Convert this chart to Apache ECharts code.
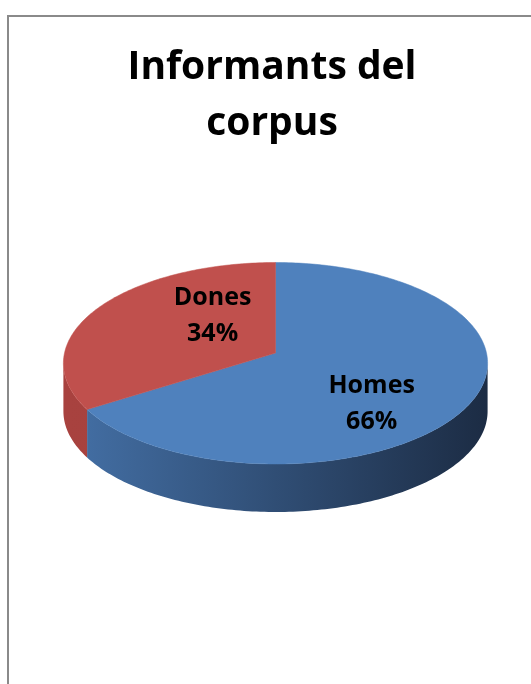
<!DOCTYPE html>
<html>
<head>
<meta charset="utf-8">
<style>
  html, body { margin: 0; padding: 0; background: #ffffff; }
  #chart { width: 531px; height: 684px; }
</style>
<script src="https://cdn.jsdelivr.net/npm/echarts@6/dist/echarts.min.js"></script>
</head>
<body>
<div id="chart"></div>
<script>
// Corpus informants by sex
const categories = ['Homes', 'Dones'];
const values = [66, 34];

// Slice colours: top face, and side (left -> right gradient stops)
const topColors = ['#4F81BD', '#C0504D'];
const sideColors = [['#4470a6', '#1c2c44'], ['#a8423f', '#a03f3c']];

// Tilted-disc geometry (pixels)
const disc = { cx: 275.5, cy: 353, a: 211, b: 99.7, k: 0.1017, depth: 48 };
// Label anchor as fractions of the semi-axes along each slice's mid angle
const labelReach = [[0.52, 1.05], [0.34, 0.77]];

const total = values.reduce((s, v) => s + v, 0);
const DEG = Math.PI / 180;

// Perspective projection of a point on the unit disc at angle phi (deg, clockwise from +x)
function project(phi, r) {
  const u = r * Math.cos(phi * DEG);
  const v = r * Math.sin(phi * DEG);
  const s = 1 / (1 - disc.k * v);
  return [disc.cx + disc.a * u * s, disc.cy + disc.b * v * s];
}

function arcPoints(a0, a1, r) {
  const pts = [];
  const n = Math.max(2, Math.ceil(Math.abs(a1 - a0)));
  for (let i = 0; i <= n; i++) pts.push(project(a0 + (a1 - a0) * i / n, r));
  return pts;
}

function sliceRange(idx) {
  let start = -90;
  for (let i = 0; i < idx; i++) start += values[i] / total * 360;
  return [start, start + values[idx] / total * 360];
}

// The rim is visible between the two silhouette points through the front
const rimLo = Math.asin(disc.k) / DEG;
const rimHi = 180 - rimLo;

function renderItem(params, api) {
  const idx = params.dataIndex;
  const val = api.value(0);
  const [a0, a1] = sliceRange(idx);
  const children = [];

  // Side wall
  [0, 360, -360].forEach(function (shift) {
    const s0 = Math.max(a0, rimLo + shift);
    const s1 = Math.min(a1, rimHi + shift);
    if (s1 > s0) {
      const top = arcPoints(s0, s1, 1);
      const bottom = top.map(p => [p[0], p[1] + disc.depth]).reverse();
      children.push({
        type: 'polygon',
        shape: { points: top.concat(bottom) },
        style: {
          fill: new echarts.graphic.LinearGradient(
            disc.cx - disc.a, 0, disc.cx + disc.a, 0,
            [{ offset: 0, color: sideColors[idx][0] }, { offset: 1, color: sideColors[idx][1] }],
            true
          ),
          stroke: null
        }
      });
    }
  });

  // Top face
  const face = [project(0, 0)].concat(arcPoints(a0, a1, 1));
  children.push({
    type: 'polygon',
    shape: { points: face },
    style: { fill: topColors[idx], stroke: topColors[idx], lineWidth: 0.5 }
  });

  // Label: name and share
  const mid = (a0 + a1) / 2;
  const lx = disc.cx + disc.a * Math.cos(mid * DEG) * labelReach[idx][0];
  const ly = disc.cy + disc.b * Math.sin(mid * DEG) * labelReach[idx][1];
  children.push({
    type: 'text',
    style: {
      text: categories[idx] + '\n' + Math.round(val / total * 100) + '%',
      x: lx, y: ly,
      align: 'center', verticalAlign: 'middle',
      font: 'bold 25px "Open Sans"',
      lineHeight: 36,
      fill: '#000000'
    }
  });

  return { type: 'group', children: children };
}

const chart = echarts.init(document.getElementById('chart'), null, { renderer: 'canvas' });
chart.setOption({
  backgroundColor: '#ffffff',
  animation: false,
  title: {
    text: 'Informants del\ncorpus',
    left: 267,
    top: 35,
    textAlign: 'center',
    textStyle: {
      fontFamily: 'Open Sans',
      fontWeight: 'bold',
      fontSize: 39,
      lineHeight: 56,
      color: '#000000'
    }
  },
  graphic: [{
    type: 'rect',
    shape: { x: 8, y: 16, width: 700, height: 900 },
    style: { fill: null, stroke: '#8a8a8a', lineWidth: 2 },
    silent: true
  }],
  series: [{
    type: 'custom',
    coordinateSystem: 'none',
    renderItem: renderItem,
    data: values.map((v, i) => ({ name: categories[i], value: [v] }))
  }]
});
</script>
</body>
</html>
